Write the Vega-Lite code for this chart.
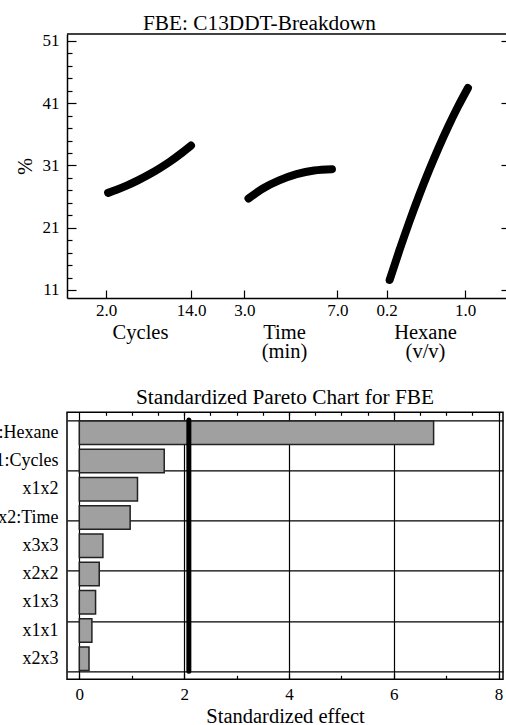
{
  "$schema": "https://vega.github.io/schema/vega-lite/v6.json",
  "autosize": {"type": "none"},
  "padding": {"left": 67, "top": 34, "right": 439, "bottom": 691},
  "background": "white",
  "config": {
    "font": "Liberation Serif",
    "view": {"stroke": null},
    "axis": {
      "labelFont": "Liberation Serif", "titleFont": "Liberation Serif",
      "labelColor": "black", "titleColor": "black", "domainColor": "black", "tickColor": "black",
      "labelFontSize": 17, "titleFontSize": 20.5, "titleFontWeight": "normal",
      "grid": false, "domainWidth": 1.5, "tickWidth": 1.2
    },
    "title": {"font": "Liberation Serif", "fontSize": 21.3, "fontWeight": "normal", "color": "black"}
  },
  "datasets": {
    "cycles": [
      {"cycles": 2.3, "pct": 26.6}, {"cycles": 3.5, "pct": 27.1}, {"cycles": 5, "pct": 27.8},
      {"cycles": 6.5, "pct": 28.6}, {"cycles": 8, "pct": 29.5}, {"cycles": 9.5, "pct": 30.5},
      {"cycles": 11, "pct": 31.6}, {"cycles": 12.5, "pct": 32.85}, {"cycles": 14, "pct": 34.2}
    ],
    "time": [
      {"time": 3.18, "pct": 25.7}, {"time": 3.8, "pct": 27.3}, {"time": 4.5, "pct": 28.6},
      {"time": 5.25, "pct": 29.6}, {"time": 6, "pct": 30.2}, {"time": 6.77, "pct": 30.4}
    ],
    "hexane": [
      {"hexane": 0.23, "pct": 12.6}, {"hexane": 0.33, "pct": 17.37}, {"hexane": 0.43, "pct": 21.88},
      {"hexane": 0.53, "pct": 26.13}, {"hexane": 0.63, "pct": 30.11}, {"hexane": 0.73, "pct": 33.84},
      {"hexane": 0.83, "pct": 37.3}, {"hexane": 0.93, "pct": 40.51}, {"hexane": 1.03, "pct": 43.45}
    ],
    "pareto": [
      {"effect": "x3:Hexane", "value": 6.76},
      {"effect": "x1:Cycles", "value": 1.62},
      {"effect": "x1x2", "value": 1.11},
      {"effect": "x2:Time", "value": 0.97},
      {"effect": "x3x3", "value": 0.45},
      {"effect": "x2x2", "value": 0.38},
      {"effect": "x1x3", "value": 0.31},
      {"effect": "x1x1", "value": 0.24},
      {"effect": "x2x3", "value": 0.185}
    ],
    "critical": [{"t": 2.09}],
    "frame": [{}]
  },
  "spacing": 114.3,
  "bounds": "flush",
  "vconcat": [
    {
      "width": 439, "height": 264,
      "title": {"text": "FBE: C13DDT-Breakdown", "anchor": "start", "frame": "group", "dx": 76, "offset": -2},
      "resolve": {"scale": {"x": "independent"}, "axis": {"x": "independent", "y": "independent"}},
      "layer": [
        {
          "data": {"name": "cycles"},
          "mark": {"type": "line", "strokeWidth": 8, "strokeCap": "round", "strokeJoin": "round", "color": "black", "interpolate": "monotone"},
          "encoding": {
            "x": {"field": "cycles", "type": "quantitative",
              "scale": {"domain": [-3.506, 58.47], "nice": false, "zero": false},
              "axis": {"orient": "bottom", "values": [2, 14], "format": ".1f", "title": "Cycles", "tickSize": -8, "labelPadding": 12,
                "titleBaseline": "alphabetic", "titleY": 40, "titleX": 73}},
            "y": {"field": "pct", "type": "quantitative",
              "scale": {"domain": [9.71, 52.12], "nice": false, "zero": false},
              "axis": {"orient": "left", "values": [11, 13, 15, 17, 19, 21, 23, 25, 27, 29, 31, 33, 35, 37, 39, 41, 43, 45, 47, 49, 51],
                "tickSize": {"condition": {"test": "datum.value % 10 == 1", "value": -9}, "value": -5},
                "labelExpr": "datum.value % 10 == 1 ? datum.label : ''",
                "labelPadding": 17, "title": "%", "titleX": -42, "titleY": 132,
                "titleBaseline": "middle", "titleAlign": "center", "titleAngle": -90}}
          }
        },
        {
          "data": {"name": "time"},
          "mark": {"type": "line", "strokeWidth": 8, "strokeCap": "round", "strokeJoin": "round", "color": "black", "interpolate": "monotone"},
          "encoding": {
            "x": {"field": "time", "type": "quantitative",
              "scale": {"domain": [-4.626, 14.256], "nice": false, "zero": false},
              "axis": {"orient": "bottom", "values": [3, 7], "format": ".1f", "title": ["Time", "(min)"], "tickSize": -8, "labelPadding": 12,
                "titleBaseline": "alphabetic", "titleY": 40, "titleX": 217, "titleLineHeight": 19, "domain": false}},
            "y": {"field": "pct", "type": "quantitative", "axis": null}
          }
        },
        {
          "data": {"name": "hexane"},
          "mark": {"type": "line", "strokeWidth": 8, "strokeCap": "round", "strokeJoin": "round", "color": "black", "interpolate": "monotone"},
          "encoding": {
            "x": {"field": "hexane", "type": "quantitative",
              "scale": {"domain": [-3.0655, 1.4187], "nice": false, "zero": false},
              "axis": {"orient": "bottom", "values": [0.2, 1.0], "format": ".1f", "title": ["Hexane", "(v/v)"], "tickSize": -8, "labelPadding": 12,
                "titleBaseline": "alphabetic", "titleY": 40, "titleX": 358, "titleLineHeight": 19, "domain": false}},
            "y": {"field": "pct", "type": "quantitative",
              "axis": {"orient": "right", "values": [11, 21, 31, 41, 51], "labels": false, "domain": false, "tickSize": -5, "title": null}}
          }
        },
        {
          "data": {"name": "frame"},
          "mark": {"type": "rule", "color": "black", "strokeWidth": 1.5},
          "encoding": {"y": {"datum": 52.12, "type": "quantitative", "axis": null}}
        }
      ]
    },
    {
      "width": 436, "height": 267,
      "title": {"text": "Standardized Pareto Chart for FBE", "offset": 3},
      "view": {"stroke": "black", "strokeWidth": 1.5},
      "layer": [
        {
          "data": {"name": "pareto"},
          "mark": {"type": "bar", "fill": "#a0a0a0", "stroke": "#222222", "strokeWidth": 1.5},
          "encoding": {
            "y": {"field": "effect", "type": "nominal", "sort": null,
              "scale": {"paddingInner": 0.17, "paddingOuter": 0.31},
              "axis": {"title": null, "ticks": false, "domain": false, "labelPadding": 9, "labelFontSize": 18}},
            "x": {"field": "value", "type": "quantitative",
              "scale": {"domain": [-0.235, 8.084], "nice": false, "zero": false},
              "axis": {"values": [0, 0.5, 1, 1.5, 2, 2.5, 3, 3.5, 4, 4.5, 5, 5.5, 6, 6.5, 7, 7.5, 8],
                "format": "d",
                "labelExpr": "datum.value % 2 == 0 ? datum.label : ''",
                "tickSize": {"condition": {"test": "datum.value % 2 == 0", "value": -6}, "value": -4},
                "grid": true, "gridColor": "black", "gridWidth": 1.2,
                "gridOpacity": {"condition": {"test": "datum.value % 2 == 0", "value": 1}, "value": 0},
                "domain": false, "labelPadding": 13.5,
                "title": "Standardized effect", "titleBaseline": "alphabetic", "titleY": 43}},
            "x2": {"datum": 0}
          }
        },
        {
          "data": {"name": "critical"},
          "mark": {"type": "rule", "strokeWidth": 5, "strokeCap": "round", "color": "black"},
          "encoding": {
            "x": {"field": "t", "type": "quantitative",
              "axis": {"orient": "top", "values": [0.5, 1, 1.5, 2, 2.5, 3, 3.5, 4, 4.5, 5, 5.5, 6, 6.5, 7, 7.5, 8],
                "labels": false, "domain": false, "title": null, "tickSize": -3, "grid": false}},
            "y": {"datum": 0, "type": "quantitative",
              "scale": {"domain": [-0.16, 5.153], "nice": false, "zero": false},
              "axis": {"orient": "left", "values": [0, 1, 2, 3, 4, 5], "grid": true, "gridColor": "black", "gridWidth": 1.2,
                "labels": false, "ticks": false, "domain": false, "title": null}},
            "y2": {"datum": 5}
          }
        }
      ],
      "resolve": {"scale": {"y": "independent"}, "axis": {"y": "independent", "x": "independent"}}
    }
  ]
}
